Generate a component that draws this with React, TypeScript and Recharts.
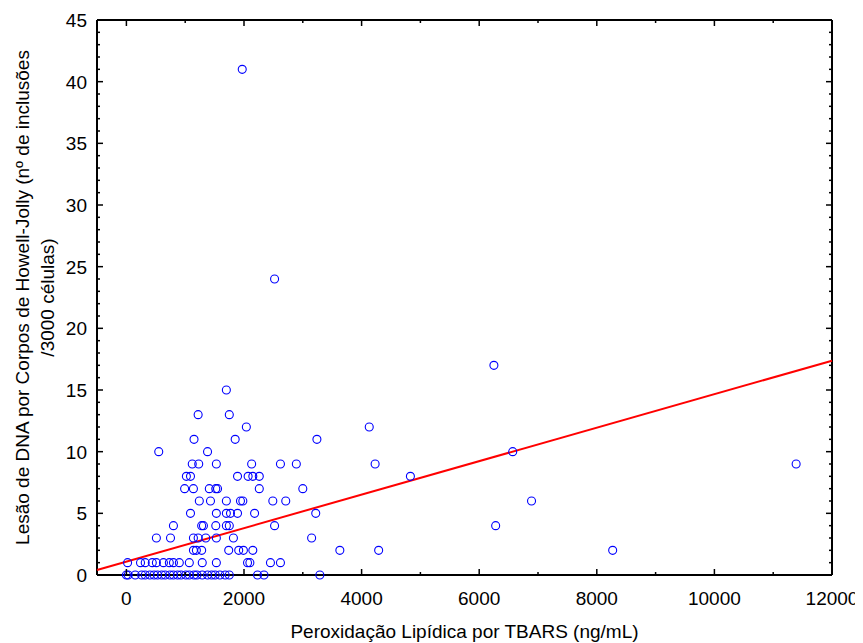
import { ScatterChart, Scatter, XAxis, YAxis, Label } from "recharts";

// Peroxidação lipídica (TBARS, ng/mL) de cada indivíduo, agrupada por nº de inclusões
const tbars = [
  // 0 inclusões
  0, 30, 150, 260, 320, 400, 470, 530, 600, 660, 740, 800, 870, 930, 1010, 1070, 1150, 1200, 1290, 1380,
  1450, 1510, 1590, 1680, 1750, 2230, 2340, 3290,
  // 1
  20, 240, 320, 440, 510, 630, 730, 800, 900, 1070, 1290, 1530, 2060, 2100, 2450, 2620,
  // 2
  1140, 1190, 1280, 1740, 1910, 1990, 2150, 3630, 4290, 8270,
  // 3
  510, 750, 1140, 1220, 1350, 1530, 1820, 3150,
  // 4
  800, 1280, 1310, 1520, 1700, 1750, 2520, 6280,
  // 5
  1090, 1530, 1700, 1770, 1890, 2180, 3220,
  // 6
  1240, 1430, 1700, 1940, 1980, 2490, 2710, 6890,
  // 7
  990, 1140, 1410, 1520, 1550, 2260, 3000,
  // 8
  1020, 1090, 1890, 2070, 2150, 2260, 4830,
  // 9
  1120, 1230, 1530, 2130, 2620, 2890, 4230, 11390,
  // 10 - 41
  550, 1380, 6570,
  1150, 1850, 3240,
  2040, 4130,
  1220, 1750,
  1700,
  6250,
  2520,
  1970,
];

const inclusoes = [
  0, 0, 0, 0, 0, 0, 0, 0, 0, 0, 0, 0, 0, 0, 0, 0, 0, 0, 0, 0,
  0, 0, 0, 0, 0, 0, 0, 0,
  1, 1, 1, 1, 1, 1, 1, 1, 1, 1, 1, 1, 1, 1, 1, 1,
  2, 2, 2, 2, 2, 2, 2, 2, 2, 2,
  3, 3, 3, 3, 3, 3, 3, 3,
  4, 4, 4, 4, 4, 4, 4, 4,
  5, 5, 5, 5, 5, 5, 5,
  6, 6, 6, 6, 6, 6, 6, 6,
  7, 7, 7, 7, 7, 7, 7,
  8, 8, 8, 8, 8, 8, 8,
  9, 9, 9, 9, 9, 9, 9, 9,
  10, 10, 10,
  11, 11, 11,
  12, 12,
  13, 13,
  15,
  17,
  24,
  41,
];

// reta de regressão linear
const fitX = [-500, 12000];
const fitIntercept = 1.09;
const fitSlope = 0.001357;

const xTicks = [0, 1000, 2000, 3000, 4000, 5000, 6000, 7000, 8000, 9000, 10000, 11000, 12000];
const yTicks = Array.from({ length: 46 }, (_, i) => i);

const points = tbars.map((x, i) => ({ x, y: inclusoes[i] }));
const fitLine = fitX.map((x) => ({ x, y: fitIntercept + fitSlope * x }));

const FONT = "'Liberation Sans', Arial, sans-serif";
const FS = 19;

function BottomTick({ x, y, payload }: any) {
  const major = payload.value % 2000 === 0;
  return (
    <g>
      <line x1={x} y1={y} x2={x} y2={y - (major ? 6 : 3)} stroke="#000" strokeWidth={1.5} />
      {major && (
        <text x={x} y={y + 30} textAnchor="middle" fontSize={FS} fontFamily={FONT} fill="#000">
          {payload.value}
        </text>
      )}
    </g>
  );
}

function TopTick({ x, y, payload }: any) {
  const major = payload.value % 2000 === 0;
  return <line x1={x} y1={y} x2={x} y2={y + (major ? 6 : 3)} stroke="#000" strokeWidth={1.5} />;
}

function LeftTick({ x, y, payload }: any) {
  const major = payload.value % 5 === 0;
  return (
    <g>
      <line x1={x} y1={y} x2={x + (major ? 6 : 3)} y2={y} stroke="#000" strokeWidth={1.5} />
      {major && (
        <text x={x - 10} y={y + 7} textAnchor="end" fontSize={FS} fontFamily={FONT} fill="#000">
          {payload.value}
        </text>
      )}
    </g>
  );
}

function RightTick({ x, y, payload }: any) {
  const major = payload.value % 5 === 0;
  return <line x1={x} y1={y} x2={x - (major ? 6 : 3)} y2={y} stroke="#000" strokeWidth={1.5} />;
}

function XTitle({ viewBox }: any) {
  return (
    <text
      x={viewBox.x + viewBox.width / 2}
      y={viewBox.y + 63}
      textAnchor="middle"
      fontSize={FS}
      fontFamily={FONT}
      fill="#000"
    >
      Peroxidação Lipídica por TBARS (ng/mL)
    </text>
  );
}

function YTitle({ viewBox }: any) {
  const cy = viewBox.y + viewBox.height / 2;
  return (
    <g fontSize={FS} fontFamily={FONT} fill="#000" textAnchor="middle">
      <text transform={`translate(21, ${cy}) rotate(-90)`}>
        Lesão de DNA por Corpos de Howell-Jolly (nº de inclusões
      </text>
      <text transform={`translate(46, ${cy}) rotate(-90)`}>/3000 células)</text>
    </g>
  );
}

export default function App() {
  return (
    <div>
      <style>{`.recharts-surface { overflow: visible; } .recharts-wrapper { overflow: visible; }`}</style>
      <ScatterChart width={855} height={635} margin={{ top: 11, right: 30, bottom: 67, left: 88 }}>
        <XAxis
          xAxisId="bottom"
          dataKey="x"
          type="number"
          domain={[-500, 12000]}
          ticks={xTicks}
          interval={0}
          height={1}
          tickSize={0}
          tickMargin={0}
          tickLine={false}
          tick={<BottomTick />}
          axisLine={{ stroke: "#000", strokeWidth: 2 }}
        >
          <Label content={<XTitle />} />
        </XAxis>
        <XAxis
          xAxisId="top"
          orientation="top"
          dataKey="x"
          type="number"
          domain={[-500, 12000]}
          ticks={xTicks}
          interval={0}
          height={1}
          tickSize={0}
          tickMargin={0}
          tickLine={false}
          tick={<TopTick />}
          axisLine={{ stroke: "#000", strokeWidth: 2 }}
        />
        <YAxis
          yAxisId="left"
          dataKey="y"
          type="number"
          domain={[0, 45]}
          ticks={yTicks}
          interval={0}
          width={1}
          tickSize={0}
          tickMargin={0}
          tickLine={false}
          tick={<LeftTick />}
          axisLine={{ stroke: "#000", strokeWidth: 2 }}
        >
          <Label content={<YTitle />} />
        </YAxis>
        <YAxis
          yAxisId="right"
          orientation="right"
          dataKey="y"
          type="number"
          domain={[0, 45]}
          ticks={yTicks}
          interval={0}
          width={1}
          tickSize={0}
          tickMargin={0}
          tickLine={false}
          tick={<RightTick />}
          axisLine={{ stroke: "#000", strokeWidth: 2 }}
        />
        <Scatter
          xAxisId="top"
          yAxisId="right"
          data={fitLine}
          line={{ stroke: "#ff0000", strokeWidth: 2 }}
          shape={() => <g />}
          isAnimationActive={false}
        />
        <Scatter
          xAxisId="bottom"
          yAxisId="left"
          data={points}
          shape={(p: any) => (
            <circle cx={p.cx} cy={p.cy} r={4} fill="none" stroke="#0000ff" strokeWidth={1.1} />
          )}
          isAnimationActive={false}
        />
      </ScatterChart>
    </div>
  );
}
